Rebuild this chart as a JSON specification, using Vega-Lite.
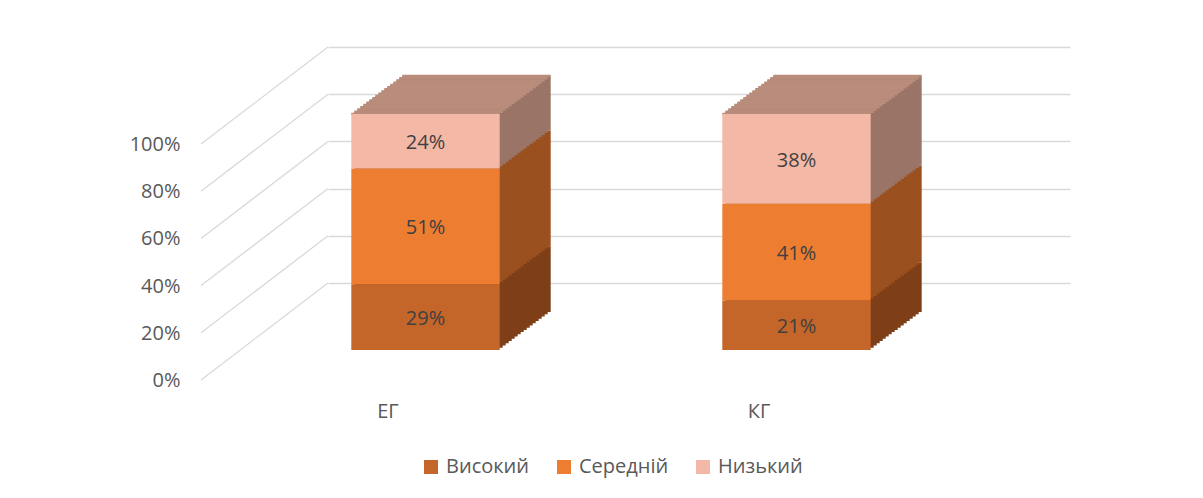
{
  "$schema": "https://vega.github.io/schema/vega-lite/v6.json",
  "width": 742,
  "height": 236,
  "autosize": "none",
  "padding": {"left": 328, "top": 47, "right": 133, "bottom": 215},
  "background": "white",
  "config": {
    "view": {"stroke": null},
    "font": "Open Sans",
    "axisY": {"domain": false, "ticks": false, "grid": true, "gridColor": "#d9d9d9", "gridWidth": 1.3, "tickCount": 5,
      "labelOffset": 97.5, "labelPadding": 148, "labelFontSize": 20, "labelColor": "#595959", "labelFont": "Open Sans", "format": ".0%"},
    "axisX": {"domain": false, "ticks": false, "grid": false, "labelAngle": 0, "labelOffset": -125.5, "labelPadding": 118,
      "labelFontSize": 20, "labelColor": "#595959", "labelFont": "Open Sans"}
  },
  "layer": [
    {
      "data": {"values": [{"t": 0}, {"t": 0.2}, {"t": 0.4}, {"t": 0.6}, {"t": 0.8}, {"t": 1}]},
      "mark": {"type": "rule", "color": "#d9d9d9", "strokeWidth": 1.3, "xOffset": -127, "yOffset": 97},
      "encoding": {
        "x": {"value": 0},
        "x2": {"value": 0},
        "y": {"field": "t", "type": "quantitative", "title": null, "scale": {"domain": [0, 1], "nice": false}},
        "y2": {"field": "t"}
      }
    },
    {
      "data": {"values": [
        {"g": "ЕГ", "cat": "Високий", "o": 1, "v": 0.29},
        {"g": "ЕГ", "cat": "Середній", "o": 2, "v": 0.51},
        {"g": "ЕГ", "cat": "Низький", "o": 3, "v": 0.24},
        {"g": "КГ", "cat": "Високий", "o": 1, "v": 0.21},
        {"g": "КГ", "cat": "Середній", "o": 2, "v": 0.41},
        {"g": "КГ", "cat": "Низький", "o": 3, "v": 0.38}
      ]},
      "transform": [
        {"stack": "v", "groupby": ["g"], "sort": [{"field": "o", "order": "ascending"}], "offset": "normalize", "as": ["y0", "y1"]},
        {"calculate": "(datum.y0 + datum.y1) / 2", "as": "mid"}
      ],
      "encoding": {
        "x": {
          "field": "g", "type": "nominal", "sort": ["ЕГ", "КГ"], "title": null,
          "scale": {"paddingInner": 0.6, "paddingOuter": 0.3}
        }
      },
      "resolve": {"scale": {"color": "independent"}},
      "layer": [
        {
          "encoding": {
            "y": {"field": "y0", "type": "quantitative", "title": null},
            "y2": {"field": "y1"},
            "color": {"field": "cat", "type": "nominal", "legend": null,
              "scale": {"domain": ["Високий", "Середній", "Низький"], "range": ["#7E3F18", "#9A501F", "#9A7567"]}}
          },
          "layer": [
            {"mark": {"type": "bar", "xOffset": -37, "x2Offset": -37, "yOffset": 29, "y2Offset": 29}},
            {"mark": {"type": "bar", "xOffset": -40, "x2Offset": -40, "yOffset": 31.24, "y2Offset": 31.24}},
            {"mark": {"type": "bar", "xOffset": -43, "x2Offset": -43, "yOffset": 33.47, "y2Offset": 33.47}},
            {"mark": {"type": "bar", "xOffset": -46, "x2Offset": -46, "yOffset": 35.71, "y2Offset": 35.71}},
            {"mark": {"type": "bar", "xOffset": -49, "x2Offset": -49, "yOffset": 37.94, "y2Offset": 37.94}},
            {"mark": {"type": "bar", "xOffset": -52, "x2Offset": -52, "yOffset": 40.18, "y2Offset": 40.18}},
            {"mark": {"type": "bar", "xOffset": -55, "x2Offset": -55, "yOffset": 42.41, "y2Offset": 42.41}},
            {"mark": {"type": "bar", "xOffset": -58, "x2Offset": -58, "yOffset": 44.65, "y2Offset": 44.65}},
            {"mark": {"type": "bar", "xOffset": -61, "x2Offset": -61, "yOffset": 46.88, "y2Offset": 46.88}},
            {"mark": {"type": "bar", "xOffset": -64, "x2Offset": -64, "yOffset": 49.12, "y2Offset": 49.12}},
            {"mark": {"type": "bar", "xOffset": -67, "x2Offset": -67, "yOffset": 51.35, "y2Offset": 51.35}},
            {"mark": {"type": "bar", "xOffset": -70, "x2Offset": -70, "yOffset": 53.59, "y2Offset": 53.59}},
            {"mark": {"type": "bar", "xOffset": -73, "x2Offset": -73, "yOffset": 55.82, "y2Offset": 55.82}},
            {"mark": {"type": "bar", "xOffset": -76, "x2Offset": -76, "yOffset": 58.06, "y2Offset": 58.06}},
            {"mark": {"type": "bar", "xOffset": -79, "x2Offset": -79, "yOffset": 60.29, "y2Offset": 60.29}},
            {"mark": {"type": "bar", "xOffset": -82, "x2Offset": -82, "yOffset": 62.53, "y2Offset": 62.53}},
            {"mark": {"type": "bar", "xOffset": -85, "x2Offset": -85, "yOffset": 64.76, "y2Offset": 64.76}}
          ]
        },
        {
          "transform": [{"filter": "datum.cat === 'Низький'"}],
          "encoding": {
            "y": {"field": "y1", "type": "quantitative", "title": null}
          },
          "layer": [
            {"mark": {"type": "tick", "orient": "horizontal", "color": "#B98C7B", "opacity": 1, "size": 148.4, "thickness": 2.6, "xOffset": -37, "yOffset": 29}},
            {"mark": {"type": "tick", "orient": "horizontal", "color": "#B98C7B", "opacity": 1, "size": 148.4, "thickness": 2.6, "xOffset": -40, "yOffset": 31.24}},
            {"mark": {"type": "tick", "orient": "horizontal", "color": "#B98C7B", "opacity": 1, "size": 148.4, "thickness": 2.6, "xOffset": -43, "yOffset": 33.47}},
            {"mark": {"type": "tick", "orient": "horizontal", "color": "#B98C7B", "opacity": 1, "size": 148.4, "thickness": 2.6, "xOffset": -46, "yOffset": 35.71}},
            {"mark": {"type": "tick", "orient": "horizontal", "color": "#B98C7B", "opacity": 1, "size": 148.4, "thickness": 2.6, "xOffset": -49, "yOffset": 37.94}},
            {"mark": {"type": "tick", "orient": "horizontal", "color": "#B98C7B", "opacity": 1, "size": 148.4, "thickness": 2.6, "xOffset": -52, "yOffset": 40.18}},
            {"mark": {"type": "tick", "orient": "horizontal", "color": "#B98C7B", "opacity": 1, "size": 148.4, "thickness": 2.6, "xOffset": -55, "yOffset": 42.41}},
            {"mark": {"type": "tick", "orient": "horizontal", "color": "#B98C7B", "opacity": 1, "size": 148.4, "thickness": 2.6, "xOffset": -58, "yOffset": 44.65}},
            {"mark": {"type": "tick", "orient": "horizontal", "color": "#B98C7B", "opacity": 1, "size": 148.4, "thickness": 2.6, "xOffset": -61, "yOffset": 46.88}},
            {"mark": {"type": "tick", "orient": "horizontal", "color": "#B98C7B", "opacity": 1, "size": 148.4, "thickness": 2.6, "xOffset": -64, "yOffset": 49.12}},
            {"mark": {"type": "tick", "orient": "horizontal", "color": "#B98C7B", "opacity": 1, "size": 148.4, "thickness": 2.6, "xOffset": -67, "yOffset": 51.35}},
            {"mark": {"type": "tick", "orient": "horizontal", "color": "#B98C7B", "opacity": 1, "size": 148.4, "thickness": 2.6, "xOffset": -70, "yOffset": 53.59}},
            {"mark": {"type": "tick", "orient": "horizontal", "color": "#B98C7B", "opacity": 1, "size": 148.4, "thickness": 2.6, "xOffset": -73, "yOffset": 55.82}},
            {"mark": {"type": "tick", "orient": "horizontal", "color": "#B98C7B", "opacity": 1, "size": 148.4, "thickness": 2.6, "xOffset": -76, "yOffset": 58.06}},
            {"mark": {"type": "tick", "orient": "horizontal", "color": "#B98C7B", "opacity": 1, "size": 148.4, "thickness": 2.6, "xOffset": -79, "yOffset": 60.29}},
            {"mark": {"type": "tick", "orient": "horizontal", "color": "#B98C7B", "opacity": 1, "size": 148.4, "thickness": 2.6, "xOffset": -82, "yOffset": 62.53}},
            {"mark": {"type": "tick", "orient": "horizontal", "color": "#B98C7B", "opacity": 1, "size": 148.4, "thickness": 2.6, "xOffset": -85, "yOffset": 64.76}},
            {"mark": {"type": "tick", "orient": "horizontal", "color": "#B98C7B", "opacity": 1, "size": 148.4, "thickness": 2.6, "xOffset": -88, "yOffset": 67}}
          ]
        },
        {
          "mark": {"type": "bar", "xOffset": -88, "x2Offset": -88, "yOffset": 67, "y2Offset": 67},
          "encoding": {
            "y": {"field": "y0", "type": "quantitative", "title": null},
            "y2": {"field": "y1"},
            "color": {
              "field": "cat", "type": "nominal",
              "scale": {"domain": ["Високий", "Середній", "Низький"], "range": ["#C4652A", "#ED7D31", "#F4B8A6"]},
              "legend": {"title": null, "orient": "none", "legendX": 93, "legendY": 410, "direction": "horizontal",
                "symbolType": "square", "symbolSize": 196, "symbolStrokeWidth": 0, "labelFontSize": 20,
                "labelColor": "#595959", "labelFont": "Open Sans", "labelOffset": 5, "columnPadding": 24, "padding": 0}
            }
          }
        },
        {
          "mark": {"type": "text", "xOffset": -88, "yOffset": 69, "fontSize": 20, "color": "#404040", "font": "Open Sans", "baseline": "middle", "align": "center"},
          "encoding": {
            "y": {"field": "mid", "type": "quantitative", "title": null},
            "text": {"field": "v", "type": "quantitative", "format": ".0%"}
          }
        }
      ]
    }
  ]
}
